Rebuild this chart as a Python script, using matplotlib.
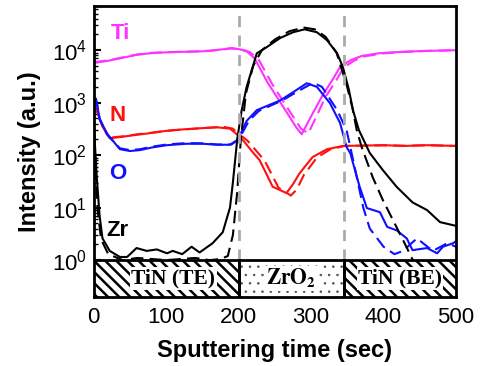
import matplotlib
matplotlib.use("Agg")
import matplotlib.pyplot as plt
from matplotlib.patches import Rectangle

plt.rcParams['font.family'] = ['Liberation Sans', 'DejaVu Sans']
plt.rcParams['hatch.linewidth'] = 1.8

# Ti (solid and dashed runs)
t_ti = [0, 10, 20, 40, 60, 80, 100, 120, 140, 160, 180, 190, 200, 210, 222, 240,
        260, 280, 287, 300, 316, 330, 340, 355, 370, 395, 430, 460, 500]
ti = [5800, 6000, 6300, 7200, 8200, 8800, 9100, 9300, 9400, 9700, 10500, 11000,
      10500, 9800, 7000, 2400, 900, 330, 250, 550, 1400, 2800, 4800, 6500, 7800,
      8800, 9400, 9700, 10000]
t_ti_d = [0, 20, 40, 60, 80, 100, 120, 140, 160, 180, 190, 200, 215, 228, 246,
          266, 286, 296, 306, 320, 335, 345, 360, 375, 400, 430, 460, 500]
ti_d = [5900, 6400, 7300, 8300, 8900, 9200, 9300, 9500, 9800, 10400, 10800, 10400,
        9300, 6500, 2300, 850, 320, 260, 500, 1300, 2700, 4700, 6400, 7700, 8700,
        9300, 9700, 10000]

# N
t_n = [0, 5, 12, 22, 40, 60, 77, 95, 109, 130, 146, 170, 188, 196, 206, 218, 229,
       247, 266, 275, 284, 302, 322, 344, 367, 400, 430, 460, 500]
n = [800, 650, 350, 210, 225, 245, 262, 285, 300, 315, 325, 340, 320, 260, 193,
     120, 80, 25, 19, 28, 45, 92, 130, 150, 152, 155, 150, 155, 150]
t_n_d = [0, 5, 12, 22, 40, 60, 80, 100, 120, 140, 160, 180, 192, 200, 212, 225,
         236, 255, 272, 280, 290, 308, 326, 346, 370, 400, 430, 460, 500]
n_d = [850, 680, 360, 215, 228, 250, 268, 290, 305, 320, 335, 345, 320, 255, 190,
       118, 78, 24, 17, 22, 42, 90, 128, 150, 152, 154, 151, 155, 150]

# O
t_o = [0, 3, 8, 18, 36, 50, 64, 80, 101, 128, 150, 170, 188, 197, 204, 211, 225,
       257, 275, 294, 308, 326, 340, 349, 354, 367, 377, 395, 405, 418, 432, 440,
       460, 474, 482, 496, 500]
o = [1000, 1200, 500, 260, 130, 120, 125, 140, 155, 165, 165, 158, 158, 190, 280,
     450, 720, 1100, 1580, 2350, 2000, 980, 410, 142, 110, 25, 9.8, 8.2, 4.3, 3.7,
     2.6, 1.55, 1.7, 1.35, 1.8, 2.1, 2.3]
t_o_d = [0, 3, 8, 18, 36, 50, 64, 80, 101, 128, 150, 170, 190, 199, 206, 214, 228,
         260, 280, 303, 315, 336, 349, 360, 372, 381, 400, 415, 427, 446, 468, 488,
         500]
o_d = [1000, 1150, 480, 250, 135, 125, 130, 145, 160, 170, 168, 160, 160, 195, 280,
       450, 700, 1100, 1600, 2400, 2000, 720, 300, 60, 10, 4, 1.8, 1.3, 1.5, 2.6,
       1.5, 2.1, 1.8]

# Zr
t_zr = [0, 4, 8, 12, 22, 36, 46, 59, 73, 87, 101, 109, 122, 135, 146, 164, 178,
        188, 192, 198, 204, 211, 225, 239, 257, 275, 291, 308, 322, 336, 344, 352,
        358, 366, 381, 399, 418, 440, 460, 478, 500]
zr = [400, 40, 7, 2.6, 1.5, 1.15, 1.15, 1.7, 1.5, 1.6, 1.35, 1.5, 1.3, 1.8, 1.4,
      2.1, 3.4, 10, 30, 200, 700, 2000, 8700, 11500, 17000, 22000, 25000, 22000,
      15500, 8700, 4700, 1800, 700, 300, 110, 52, 25, 12.6, 9, 5.3, 4.5]
t_zr_d = [0, 5, 10, 20, 40, 60, 80, 100, 120, 140, 160, 175, 185, 192, 198, 203,
          210, 220, 232, 250, 270, 290, 305, 320, 335, 349, 357, 363, 370, 385,
          399, 413, 427, 439, 452]
zr_d = [300, 10, 2.5, 1.3, 1.0, 1.1, 1.05, 1.0, 1.05, 1.1, 1.0, 1.05, 1.2, 3, 20,
        200, 1500, 5000, 10000, 16000, 23000, 27000, 25000, 18000, 9000, 2200, 800,
        300, 140, 38, 14, 5.8, 2.4, 1.1, 0.5]

layer_edges = [0, 200, 345, 500]
layer_names = ['TiN (TE)', r'$\mathbf{ZrO_2}$', 'TiN (BE)']
layer_hatch = ['\\\\\\', '..', '\\\\\\']
layer_hcolor = ['black', '#555555', 'black']
layer_hlw = [1.8, 0.6, 1.8]

ymin, ymax = 0.2, 7e4

fig = plt.figure(figsize=(4.81, 3.66), dpi=100)
ax = fig.add_axes([0.195, 0.189, 0.753, 0.795])
ax.set_yscale('log')

ax.plot(t_ti, ti, color='#ff33ff', lw=1.5)
ax.plot(t_ti_d, ti_d, color='#ff33ff', lw=1.5, ls=(0, (6, 3)))
ax.plot(t_n, n, color='#ff1010', lw=1.5)
ax.plot(t_n_d, n_d, color='#ff1010', lw=1.5, ls=(0, (6, 3)))
ax.plot(t_o, o, color='#1010ff', lw=1.5)
ax.plot(t_o_d, o_d, color='#1010ff', lw=1.5, ls=(0, (6, 3)))
ax.plot(t_zr, zr, color='black', lw=1.5)
ax.plot(t_zr_d, zr_d, color='black', lw=1.5, ls=(0, (6, 3)))

# layer boundaries
ax.vlines(layer_edges[1:3], 1, ymax, colors='#aaaaaa', lw=2, ls=(0, (4, 3)))

# layer boxes
for i in range(3):
    x0, x1 = layer_edges[i], layer_edges[i + 1]
    with plt.rc_context({'hatch.linewidth': layer_hlw[i]}):
        box = Rectangle((x0, ymin), x1 - x0, 1 - ymin, facecolor='white',
                        edgecolor=layer_hcolor[i], hatch=layer_hatch[i],
                        lw=0, zorder=3)
    if hasattr(box, 'set_hatch_linewidth'):
        box.set_hatch_linewidth(layer_hlw[i])
    ax.add_patch(box)
    ax.add_patch(Rectangle((x0, ymin), x1 - x0, 1 - ymin, fill=False,
                           edgecolor='black', lw=2, zorder=4))
    xc = (x0 + x1) / 2 + (10 if i == 0 else 0)
    ax.text(xc, (ymin * 1) ** 0.5, layer_names[i], ha='center', va='center',
            family='Liberation Serif', weight='bold', fontsize=15.5,
            math_fontfamily='stix', zorder=5,
            bbox=dict(facecolor='white', edgecolor='none', pad=1))

# element labels
ax.text(24, 2.1e4, 'Ti', color='#ff33ff', fontsize=16, weight='bold', va='center')
ax.text(21, 580, 'N', color='#ff1010', fontsize=16, weight='bold', va='center')
ax.text(21, 45, 'O', color='#1010ff', fontsize=16, weight='bold', va='center')
ax.text(18, 3.7, 'Zr', color='black', fontsize=16, weight='bold', va='center')

ax.set_xlim(0, 500)
ax.set_ylim(ymin, ymax)
ax.set_xticks([0, 100, 200, 300, 400, 500])
ax.set_yticks([1, 10, 100, 1000, 10000])
ax.tick_params(axis='both', which='both', direction='in', labelsize=16)
ax.tick_params(axis='y', which='major', length=5, width=1.5, pad=5)
ax.tick_params(axis='y', which='minor', length=3, width=1)
ax.tick_params(axis='x', length=0, pad=7)
for s in ax.spines.values():
    s.set_linewidth(2)

ax.set_xlabel('Sputtering time (sec)', fontsize=17, weight='bold', labelpad=8)
ax.set_ylabel('Intensity (a.u.)', fontsize=17, weight='bold', labelpad=8)

fig.savefig('out.png', dpi=100)
